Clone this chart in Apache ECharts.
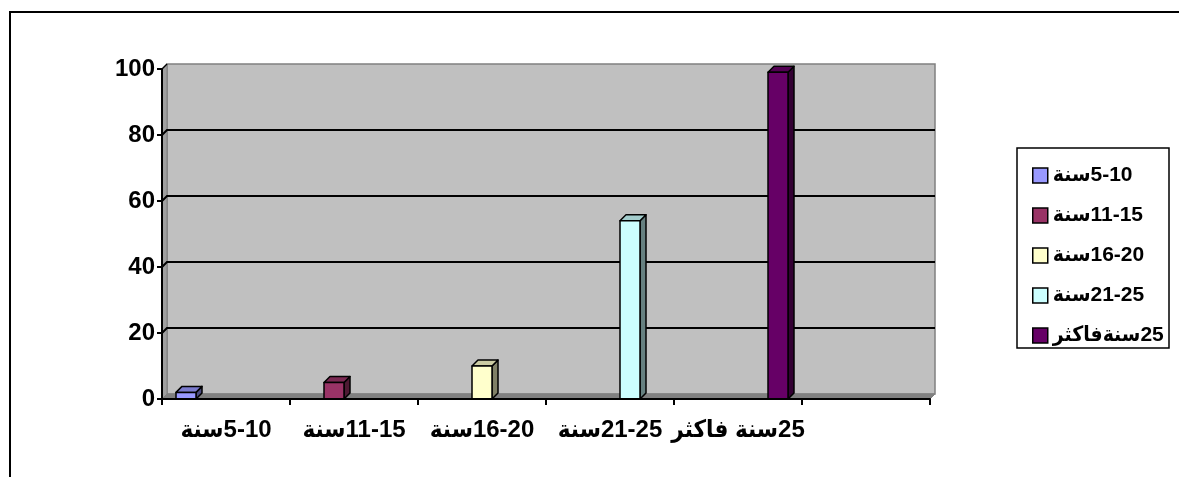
<!DOCTYPE html>
<html><head><meta charset="utf-8">
<script src="https://cdn.jsdelivr.net/npm/echarts@6/dist/echarts.min.js"></script>
<style>html,body{margin:0;padding:0;background:#fff}#c{width:1179px;height:477px}</style>
</head><body>
<div id="c" dir="rtl"></div>
<script>
// ---- data ----
const categories = ['5-10سنة', '11-15سنة', '16-20سنة', '21-25سنة', '25سنة فاكثر', ''];
const seriesNames = ['5-10سنة', '11-15سنة', '16-20سنة', '21-25سنة', '25سنةفاكثر'];
const seriesCategory = [0, 1, 2, 3, 4];
const seriesValues = [2, 5, 10, 54, 99];
const yTicks = [0, 20, 40, 60, 80, 100];
const colors = ['#9999FF', '#993366', '#FFFFCC', '#CCFFFF', '#660066'];

const FONT = 'Arial, "Liberation Sans", "DejaVu Sans Condensed", "DejaVu Sans", sans-serif';
const D = 5;   // wall depth
const B = 6;   // bar depth

function shade(hex, f) {
  const n = parseInt(hex.slice(1), 16);
  const r = Math.round(((n >> 16) & 255) * f), g = Math.round(((n >> 8) & 255) * f), b = Math.round((n & 255) * f);
  return 'rgb(' + r + ',' + g + ',' + b + ')';
}

function renderFrame(params, api) {
  const cs = params.coordSys;
  const L = cs.x, T = cs.y, R = cs.x + cs.width, Bt = cs.y + cs.height;
  const ch = [];
  ch.push({type: 'rect', shape: {x: L + D, y: T - D, width: cs.width, height: cs.height},
    style: {fill: '#C0C0C0', stroke: '#808080', lineWidth: 1.5}});
  ch.push({type: 'polygon', shape: {points: [[L, T], [L + D, T - D], [L + D, Bt - D], [L, Bt]]},
    style: {fill: '#A0A0A0', stroke: '#808080', lineWidth: 1}});
  ch.push({type: 'polygon', shape: {points: [[L, Bt], [L + D, Bt - D], [R + D, Bt - D], [R, Bt]]},
    style: {fill: '#808080', stroke: '#808080', lineWidth: 1}});
  yTicks.forEach(function (v) {
    if (v === yTicks[0] || v === yTicks[yTicks.length - 1]) return;
    const y = api.coord([0, v])[1];
    ch.push({type: 'polyline', shape: {points: [[L, y], [L + D, y - D], [R + D, y - D]]},
      style: {stroke: '#000', lineWidth: 2, fill: null}});
  });
  const yTop = api.coord([0, yTicks[yTicks.length - 1]])[1];
  ch.push({type: 'line', shape: {x1: L, y1: yTop, x2: L + D, y2: yTop - D}, style: {stroke: '#000', lineWidth: 1.5}});
  return {type: 'group', children: ch};
}

function makeBarRender(k) {
  return function (params, api) {
    const c = api.value(0), v = api.value(1);
    const band = api.size([1, 0])[0];
    const center = api.coord([c, 0])[0];
    const y0 = api.coord([c, 0])[1], y1 = api.coord([c, v])[1];
    const w = band * 20 / 128;
    const x0 = center - band * 50 / 128 + w * k;
    const x1 = x0 + w;
    const st = {stroke: '#000', lineWidth: 1.5, lineJoin: 'round'};
    return {type: 'group', children: [
      {type: 'polygon', shape: {points: [[x1, y1], [x1 + B, y1 - B], [x1 + B, y0 - B], [x1, y0]]},
        style: Object.assign({}, st, {fill: shade(colors[k], 0.5)})},
      {type: 'polygon', shape: {points: [[x0, y1], [x0 + B, y1 - B], [x1 + B, y1 - B], [x1, y1]]},
        style: Object.assign({}, st, {fill: shade(colors[k], 0.8)})},
      {type: 'rect', shape: {x: x0, y: y1, width: w, height: y0 - y1},
        style: Object.assign({}, st, {fill: colors[k]})}
    ]};
  };
}

const series = [{
  type: 'custom', name: '__frame', silent: true, z: 1,
  renderItem: renderFrame, data: [[0, 0]], tooltip: {show: false}
}];
seriesNames.forEach(function (nm, k) {
  series.push({
    type: 'custom', name: nm, z: 3,
    itemStyle: {color: colors[k]},
    renderItem: makeBarRender(k),
    encode: {x: 0, y: 1},
    data: [[seriesCategory[k], seriesValues[k]]]
  });
});

const chart = echarts.init(document.getElementById('c'));
chart.setOption({
  animation: false,
  backgroundColor: '#fff',
  grid: {left: 162, right: 249, top: 69, bottom: 78},
  xAxis: {
    type: 'category', data: categories, boundaryGap: true, z: 5,
    axisLine: {lineStyle: {color: '#000', width: 2}},
    axisTick: {show: true, interval: 0, length: 6, lineStyle: {color: '#000', width: 2}},
    axisLabel: {interval: 0, margin: 19, color: '#000', fontSize: 24, fontWeight: 'bold', fontFamily: FONT},
    splitLine: {show: false}
  },
  yAxis: {
    type: 'value', min: 0, max: 100, interval: 20, z: 5,
    axisLine: {show: true, lineStyle: {color: '#000', width: 2}},
    axisTick: {show: true, length: 5, lineStyle: {color: '#000', width: 2}},
    axisLabel: {margin: 7, color: '#000', fontSize: 24, fontWeight: 'bold', fontFamily: FONT},
    splitLine: {show: false}
  },
  legend: {
    orient: 'vertical', left: 1027, top: 160,
    itemWidth: 15, itemHeight: 15, itemGap: 19,
    textStyle: {color: '#000', fontSize: 21, fontWeight: 'bold', fontFamily: FONT},
    data: seriesNames.map(function (nm, k) {
      return {name: nm, icon: 'rect', itemStyle: {color: colors[k], borderColor: '#000', borderWidth: 1.5}};
    })
  },
  graphic: [
    {type: 'polyline', shape: {points: [[10, 477], [10, 12], [1179, 12]]}, style: {stroke: '#000', lineWidth: 2, fill: null}, silent: true},
    {type: 'rect', shape: {x: 1017, y: 148, width: 152, height: 200}, style: {stroke: '#000', lineWidth: 1.5, fill: null}, silent: true}
  ],
  series: series
});
</script>
</body></html>
